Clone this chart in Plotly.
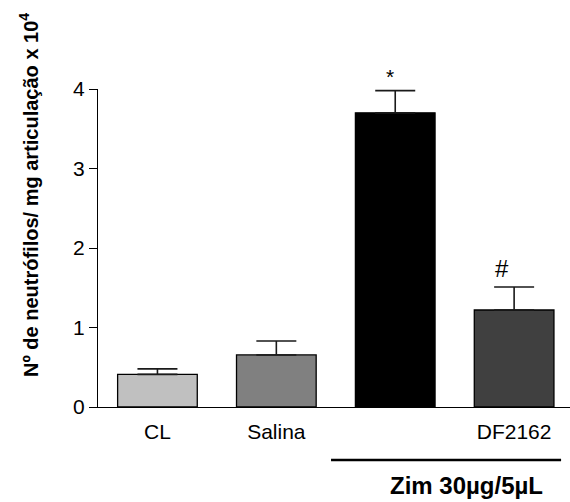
import plotly.graph_objects as go

categories = ["CL", "Salina", "Zim", "DF2162"]
tick_labels = ["CL", "Salina", "", "DF2162"]
means = [0.41, 0.655, 3.70, 1.22]
sem = [0.07, 0.175, 0.28, 0.29]
marks = ["", "", "*", "#"]
y_ticks = [0, 1, 2, 3, 4]

FONT = "Liberation Sans, Arial, sans-serif"
BAR_COLORS = ["#c0c0c0", "#808080", "#000000", "#404040"]
MARK_STYLE = {"*": dict(size=21, xshift=-5, yshift=1), "#": dict(size=24, xshift=-12, yshift=3)}

labelled = [i for i, t in enumerate(tick_labels) if t]

fig = go.Figure()
fig.add_trace(go.Bar(
    x=list(range(len(categories))),
    y=means,
    width=0.67,
    marker=dict(color=BAR_COLORS, line=dict(color="black", width=1.3)),
    error_y=dict(type="data", array=sem, arrayminus=[0] * len(sem), symmetric=False,
                 color="#1a1a1a", thickness=1.6, width=20),
    showlegend=False,
))

for i, m in enumerate(marks):
    if m:
        st = MARK_STYLE[m]
        fig.add_annotation(x=i, y=means[i] + sem[i], xref="x", yref="y", text=m,
                           showarrow=False, yanchor="bottom", xshift=st["xshift"], yshift=st["yshift"],
                           font=dict(family=FONT, size=st["size"], color="black"))

# group bracket under Zim bars
fig.add_shape(type="line", xref="x", yref="paper", x0=1.46, x1=3.395, y0=-0.167, y1=-0.167,
              line=dict(color="black", width=2.5))
fig.add_annotation(x=2.6, y=-0.248, xref="x", yref="paper", text="<b>Zim 30µg/5µL</b>",
                   showarrow=False, xanchor="center", yanchor="middle",
                   font=dict(family=FONT, size=24, color="black"))

fig.add_annotation(x=-0.146, y=0.667, xref="paper", yref="paper",
                   text="<b>Nº de neutrófilos/ mg articulação x 10<sup>4</sup></b>",
                   textangle=-90, showarrow=False, xanchor="center", yanchor="middle",
                   font=dict(family=FONT, size=20, color="black"))

fig.update_layout(
    width=570, height=502,
    margin=dict(l=98, r=0, t=89, b=95),
    paper_bgcolor="white", plot_bgcolor="white",
    font=dict(family=FONT, size=21, color="black"),
    xaxis=dict(range=[-0.5, 3.47], tickmode="array", tickvals=labelled,
               ticktext=[tick_labels[i] for i in labelled], showline=True, linecolor="black",
               linewidth=1.3, ticks="", showgrid=False, zeroline=False, fixedrange=True,
               ticklabelstandoff=6,
               tickfont=dict(family=FONT, size=21)),
    yaxis=dict(range=[0, 4], tickmode="array", tickvals=y_ticks, showline=True,
               linecolor="black", linewidth=1.3, ticks="outside", ticklen=8, tickwidth=1.3,
               tickcolor="black", showgrid=False, zeroline=False,
               tickfont=dict(family=FONT, size=21)),
)

fig.write_html("out.html")
